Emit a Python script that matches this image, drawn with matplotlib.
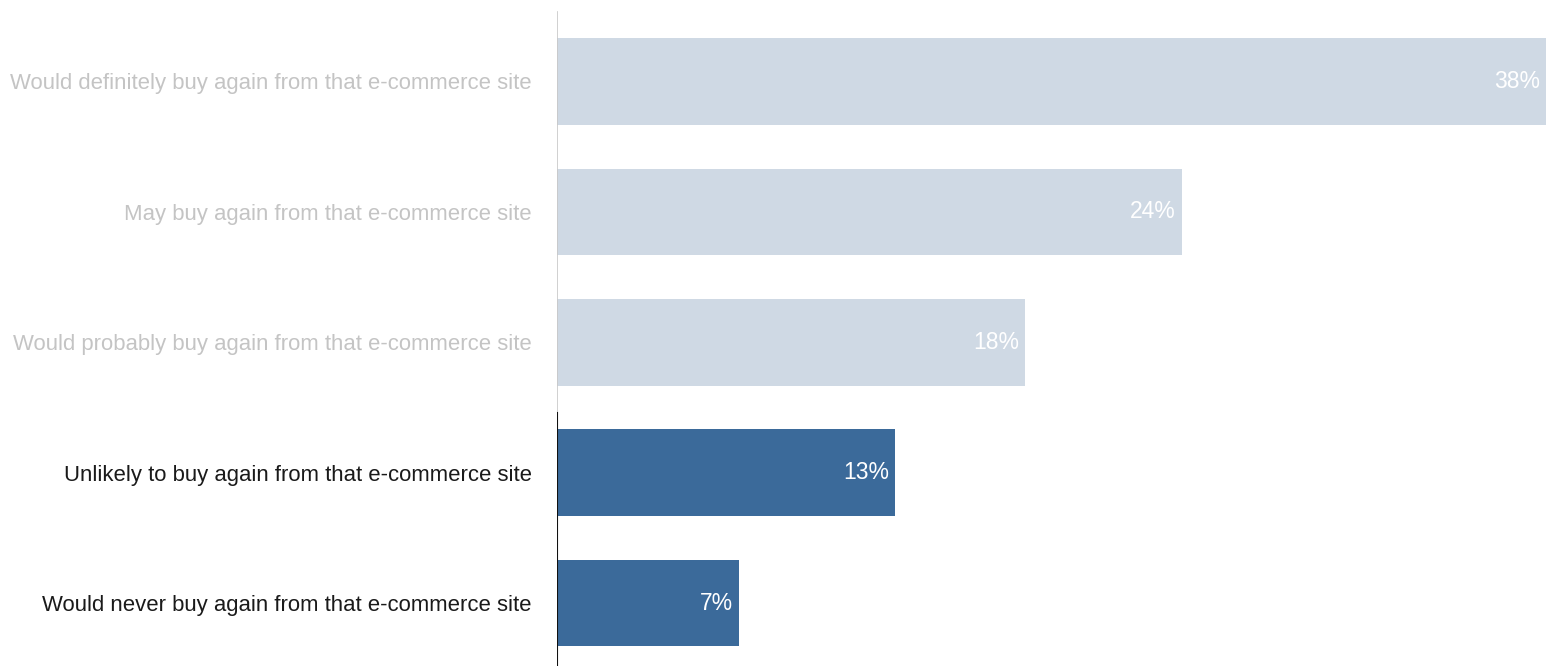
import matplotlib
matplotlib.use("Agg")
import matplotlib.pyplot as plt

categories = [
    "Would definitely buy again from that e-commerce site",
    "May buy again from that e-commerce site",
    "Would probably buy again from that e-commerce site",
    "Unlikely to buy again from that e-commerce site",
    "Would never buy again from that e-commerce site",
]
values = [38, 24, 18, 13, 7]
value_labels = ["38%", "24%", "18%", "13%", "7%"]
highlight = [False, False, False, True, True]

LIGHT_BAR = "#cfd9e4"
DARK_BAR = "#3b6a9a"
LIGHT_TXT = "#c4c4c4"
DARK_TXT = "#1a1a1a"

plt.rcParams["font.family"] = ["Liberation Sans", "DejaVu Sans"]

fig = plt.figure(figsize=(15.46, 6.66), dpi=100)
ax = fig.add_axes([557 / 1546, 0, 1 - 557 / 1546, 1])

pos = list(range(len(categories)))
colors = [DARK_BAR if h else LIGHT_BAR for h in highlight]
ax.barh(pos, values, height=0.665, color=colors, zorder=2)

ax.set_xlim(0, 38)
ax.set_ylim(4.483, -0.625)

for p, v, lab in zip(pos, values, value_labels):
    ax.text(v - 0.22, p, lab, ha="right", va="center", color="white",
            fontsize=16.5, zorder=3)

ax.set_yticks(pos)
ax.set_yticklabels(categories, fontsize=15.9)
for tl, h in zip(ax.get_yticklabels(), highlight):
    tl.set_color(DARK_TXT if h else LIGHT_TXT)
ax.tick_params(axis="y", length=0, pad=18)
ax.set_xticks([])
for s in ax.spines.values():
    s.set_visible(False)

ax.axvline(0, ymin=0.38, ymax=0.982, color="#c8c8c8", lw=1.2, zorder=4)
ax.axvline(0, ymin=0.0, ymax=0.38, color="#111111", lw=1.5, zorder=4)

fig.savefig("out.png", dpi=100)
